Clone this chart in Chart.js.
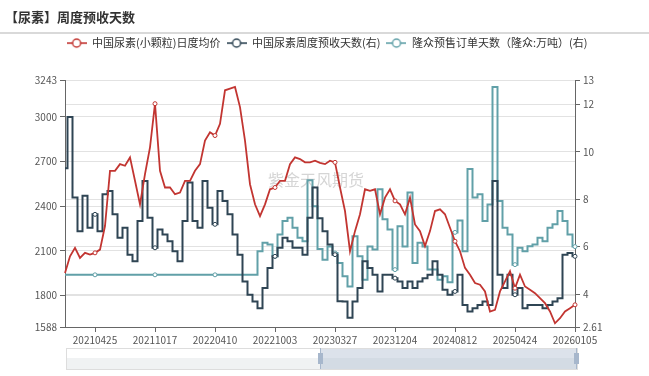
<!DOCTYPE html>
<html>
<head>
<meta charset="utf-8">
<script src="https://cdn.jsdelivr.net/npm/chart.js@4.4.1/dist/chart.umd.min.js"></script>
<style>
html, body { margin: 0; padding: 0; background: #fff; }
#box { width: 649px; height: 376px; }
</style>
</head>
<body>
<div id="box"><canvas class="canvasniaosuyushou" width="649" height="376"></canvas></div>
<script>

// x轴标签 (每12个点一个)
var xTickLabels = ['20210425', '20211017', '20220410', '20221003', '20230327', '20231204', '20240812', '20250424', '20260105'];
var firstLabelIdx = 6;
var labelStep = 12;

var leftTicks = [1588, 1800, 2100, 2400, 2700, 3000, 3243];
var rightTicks = [2.61, 4, 6, 8, 10, 12, 13];

var seriesNames = ['中国尿素(小颗粒)日度均价', '中国尿素周度预收天数(右)', '隆众预售订单天数（隆众:万吨）(右)'];
var seriesColors = ['#c23531', '#2f4554', '#61a0a8'];

// 中国尿素(小颗粒)日度均价
var priceDaily = [1950, 2063, 2120, 2052, 2086, 2074, 2086, 2108, 2266, 2637,
	2637, 2682, 2671, 2727, 2570, 2412, 2615, 2795, 3088, 2637,
	2525, 2525, 2480, 2491, 2570, 2570, 2637, 2682, 2840, 2896,
	2874, 2953, 3178, 3189, 3200, 3065, 2840, 2547, 2412, 2333,
	2412, 2513, 2525, 2570, 2570, 2682, 2727, 2716, 2694, 2694,
	2705, 2690, 2682, 2705, 2694, 2525, 2367, 2097, 2232, 2345,
	2513, 2502, 2513, 2345, 2457, 2513, 2435, 2412, 2345, 2457,
	2277, 2232, 2131, 2232, 2367, 2378, 2345, 2255, 2164, 2097,
	1985, 1939, 1883, 1872, 1827, 1692, 1703, 1827, 1894, 1962,
	1849, 1939, 1860, 1838, 1815, 1782, 1748, 1692, 1613, 1647,
	1692, 1714, 1737];

// 中国尿素周度预收天数(右)
var preDaysWeekly = [9.3, 11.46, 8.07, 6.65, 8.14, 6.8, 7.36, 6.65, 8.21, 8.35,
	7.36, 6.37, 6.8, 5.66, 5.38, 7.08, 8.77, 7.22, 5.95, 6.72,
	6.51, 6.23, 5.8, 5.38, 7.08, 8.7, 7.08, 6.8, 8.77, 7.64,
	6.94, 8.35, 7.92, 7.36, 6.51, 5.66, 4.53, 3.97, 3.68, 3.4,
	4.25, 5.1, 5.59, 5.95, 6.37, 6.23, 5.95, 5.95, 5.66, 7.22,
	8.49, 7.2, 6.65, 6.09, 5.66, 3.7, 3.68, 3.0, 3.68, 4.25,
	5.38, 5.1, 4.81, 4.11, 4.81, 4.81, 4.67, 4.53, 4.25, 4.53,
	4.25, 4.53, 4.67, 4.81, 5.38, 4.81, 4.18, 3.97, 4.11, 4.81,
	3.54, 3.26, 3.4, 3.54, 3.68, 3.54, 8.77, 4.81, 4.25, 4.81,
	3.97, 4.25, 3.4, 3.54, 3.54, 3.54, 3.4, 3.54, 3.68, 3.82,
	5.66, 5.73, 5.59];

// 隆众预售订单天数(右)
var lzPreDays = [4.81, 4.81, 4.81, 4.81, 4.81, 4.81, 4.81, 4.81, 4.81, 4.81,
	4.81, 4.81, 4.81, 4.81, 4.81, 4.81, 4.81, 4.81, 4.81, 4.81,
	4.81, 4.81, 4.81, 4.81, 4.81, 4.81, 4.81, 4.81, 4.81, 4.81,
	4.81, 4.81, 4.81, 4.81, 4.81, 4.81, 4.81, 4.81, 4.81,
	5.8, 6.16, 6.09, 5.59, 6.51, 7.08, 7.22, 6.8, 6.37, 6.23,
	8.8, 7.7, 5.9, 5.45, 6.0, 5.73, 5.31, 4.75, 4.32, 6.44,
	5.59, 4.6, 6.0, 5.88, 8.42, 7.15, 6.72, 5.03, 6.86, 6.0,
	8.28, 5.31, 6.16, 6.0, 5.03, 5.03, 4.6, 4.75, 4.5, 6.6,
	7.1, 5.8, 9.27, 8.07, 8.21, 7.08, 7.78, 12.73, 7.92, 6.8,
	6.51, 5.24, 5.95, 5.8, 6.02, 6.09, 6.37, 6.23, 6.8, 6.94,
	7.5, 7.08, 6.51, 6.0];


function isLabelIdx(i){
	return i >= firstLabelIdx && (i - firstLabelIdx) % labelStep === 0;
}

function legendIcon(color){
	var c = document.createElement('canvas');
	c.width = 20;
	c.height = 12;
	var g = c.getContext('2d');
	g.strokeStyle = color;
	g.lineWidth = 1.6;
	g.beginPath();
	g.moveTo(0, 6);
	g.lineTo(20, 6);
	g.stroke();
	g.beginPath();
	g.arc(10, 6, 4, 0, Math.PI * 2);
	g.fillStyle = '#fff';
	g.fill();
	g.lineWidth = 1.4;
	g.stroke();
	return c;
}

var decorPlugin = {
	id: 'decor',
	beforeDatasetsDraw: function(chart){
		var ctx = chart.ctx, a = chart.chartArea;
		ctx.save();
		ctx.font = '16px "Noto Sans CJK SC"';
		ctx.fillStyle = 'rgba(150,150,150,0.4)';
		ctx.textAlign = 'center';
		ctx.textBaseline = 'middle';
		ctx.fillText('紫金天风期货', (a.left + a.right) / 2 - 4, a.top + 99);
		ctx.restore();
	},
	afterDraw: function(chart){
		var ctx = chart.ctx, a = chart.chartArea;
		ctx.save();
		// 标题下横线
		var ly = chart.titleBlock.bottom + 1.5;
		ctx.strokeStyle = '#cccccc';
		ctx.lineWidth = 1.5;
		ctx.beginPath();
		ctx.moveTo(0, ly);
		ctx.lineTo(chart.width, ly);
		ctx.stroke();
		// dataZoom 滑块
		var x0 = a.left + 1, x1 = a.right + 2, y0 = a.bottom + 21, y1 = a.bottom + 42;
		var xs = a.left + (a.right - a.left) * 0.5;
		ctx.fillStyle = 'rgba(47,69,84,0.07)';
		ctx.fillRect(x0, y0 + 10, x1 - x0, y1 - y0 - 10);
		ctx.fillStyle = 'rgba(167,183,204,0.4)';
		ctx.fillRect(xs, y0, x1 - xs, y1 - y0);
		ctx.strokeStyle = '#dddddd';
		ctx.lineWidth = 1;
		ctx.strokeRect(x0 + 0.5, y0 + 0.5, x1 - x0, y1 - y0);
		ctx.strokeStyle = '#a7b7cc';
		ctx.beginPath();
		ctx.moveTo(xs + 0.5, y0);
		ctx.lineTo(xs + 0.5, y1);
		ctx.moveTo(x1 - 0.5, y0);
		ctx.lineTo(x1 - 0.5, y1);
		ctx.stroke();
		ctx.fillStyle = '#a7b7cc';
		ctx.fillRect(xs - 2, y0 + 5, 5, 11);
		ctx.fillRect(x1 - 3, y0 + 5, 5, 11);
		ctx.restore();
	}
};

function init_chart_niaosu(){

	if( typeof (Chart) === 'undefined'){ return; }

	Chart.defaults.font.family = '"Noto Sans CJK SC", "Noto Sans", sans-serif';

	var labels = priceDaily.map(function(v, i){
		return isLabelIdx(i) ? xTickLabels[(i - firstLabelIdx) / labelStep] : '';
	});

	var pointR = function(ctx){ return isLabelIdx(ctx.dataIndex) ? 2 : 0; };
	var plainNum = function(v){ return String(v); };

	var icons = seriesColors.map(legendIcon);

	var chart_line_settings = {
		type: 'line',
		data: {
			labels: labels,
			datasets: [{
				label: seriesNames[0],
				data: priceDaily,
				yAxisID: 'y',
				borderColor: seriesColors[0],
				backgroundColor: '#fff',
				borderWidth: 1.8,
				tension: 0,
				pointRadius: pointR,
				pointBorderWidth: 1,
				pointBackgroundColor: '#fff'
			}, {
				label: seriesNames[1],
				data: preDaysWeekly,
				yAxisID: 'y1',
				borderColor: seriesColors[1],
				backgroundColor: '#fff',
				borderWidth: 2,
				stepped: 'middle',
				pointRadius: pointR,
				pointBorderWidth: 1,
				pointBackgroundColor: '#fff'
			}, {
				label: seriesNames[2],
				data: lzPreDays,
				yAxisID: 'y1',
				borderColor: seriesColors[2],
				backgroundColor: '#fff',
				borderWidth: 2,
				stepped: 'middle',
				pointRadius: pointR,
				pointBorderWidth: 1,
				pointBackgroundColor: '#fff'
			}]
		},
		options: {
			responsive: false,
			animation: false,
			layout: { padding: { left: 5, right: 0, top: 0, bottom: 0 } },
			plugins: {
				tooltip: { enabled: false },
				title: {
					display: true,
					text: '【尿素】周度预收天数',
					align: 'start',
					color: '#333',
					font: { size: 13, weight: 'bold' },
					padding: { top: 9, bottom: 7 }
				},
				subtitle: {
					display: true,
					text: ' ',
					weight: 100,
					font: { size: 10 },
					padding: { top: 0, bottom: 10 }
				},
				legend: {
					display: true,
					position: 'top',
					labels: {
						usePointStyle: true,
						pointStyleWidth: 20,
						boxHeight: 11,
						padding: 6,
						color: '#333',
						font: { size: 11 },
						generateLabels: function(chart){
							var items = Chart.defaults.plugins.legend.labels.generateLabels(chart);
							items.forEach(function(it){ it.pointStyle = icons[it.datasetIndex]; });
							return items;
						}
					}
				}
			},
			scales: {
				x: {
					type: 'category',
					offset: false,
					afterFit: function(s){ s.height = 49; },
					border: { display: true, color: '#666' },
					grid: {
						display: true,
						drawOnChartArea: false,
						tickLength: 5,
						tickColor: function(ctx){ return isLabelIdx(ctx.index) ? '#666' : 'rgba(0,0,0,0)'; }
					},
					ticks: {
						autoSkip: false,
						maxRotation: 0,
						padding: 2,
						color: '#555',
						font: { size: 10 },
						callback: function(v, i){ return labels[i]; }
					}
				},
				y: {
					position: 'left',
					min: 1588,
					max: 3243,
					afterFit: function(s){ s.width = 60; },
					afterBuildTicks: function(s){ s.ticks = leftTicks.map(function(v){ return { value: v }; }); },
					border: { display: true, color: '#666' },
					grid: { color: '#e2e2e2', tickColor: '#666', tickLength: 5 },
					ticks: { color: '#555', font: { size: 10 }, padding: 3, callback: plainNum }
				},
				y1: {
					position: 'right',
					min: 2.61,
					max: 13,
					afterFit: function(s){ s.width = 74; },
					afterBuildTicks: function(s){ s.ticks = rightTicks.map(function(v){ return { value: v }; }); },
					border: { display: true, color: '#666' },
					grid: { color: '#e2e2e2', tickColor: '#666', tickLength: 5 },
					ticks: { color: '#555', font: { size: 10 }, padding: 3, callback: plainNum }
				}
			}
		},
		plugins: [decorPlugin]
	};

	var canvases = document.querySelectorAll('.canvasniaosuyushou');
	canvases.forEach(function(el){
		var chart_line = new Chart(el, chart_line_settings);
	});
}

init_chart_niaosu();

</script>
</body>
</html>
